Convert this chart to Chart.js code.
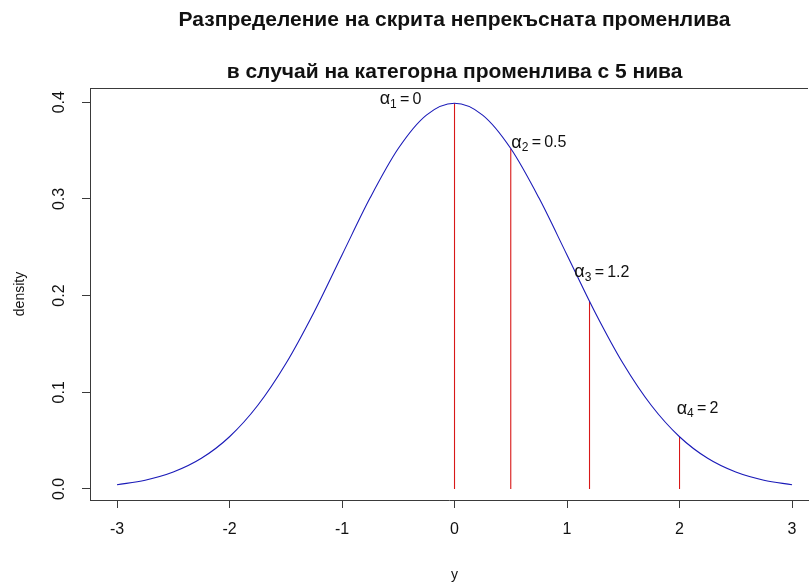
<!DOCTYPE html>
<html>
<head>
<meta charset="utf-8">
<script src="https://cdn.jsdelivr.net/npm/chart.js@4.4.1/dist/chart.umd.min.js"></script>
<style>
html, body { margin: 0; padding: 0; background: #fff; overflow: hidden; }
</style>
</head>
<body>
<canvas id="densityChart" width="809" height="584"></canvas>
<script>
// values
const titleLines = ["Разпределение на скрита непрекъсната променлива", "в случай на категорна променлива с 5 нива"];
const xLabel = "y";
const yLabel = "density";
const xTicks = [-3, -2, -1, 0, 1, 2, 3];
const yTicks = [0, 0.1, 0.2, 0.3, 0.4];

const curveX = [-3, -2.75, -2.5, -2.25, -2, -1.75, -1.5, -1.25, -1, -0.75, -0.5, -0.25, 0,
                0.25, 0.5, 0.75, 1, 1.25, 1.5, 1.75, 2, 2.25, 2.5, 2.75, 3];
const curveY = [0.0044, 0.0091, 0.0175, 0.0317, 0.054, 0.0863, 0.1295, 0.1826, 0.242, 0.3011, 0.3521, 0.3867, 0.3989,
                0.3867, 0.3521, 0.3011, 0.242, 0.1826, 0.1295, 0.0863, 0.054, 0.0317, 0.0175, 0.0091, 0.0044];

// thresholds (alpha_k) and the density where each red line stops
const cutX = [0, 0.5, 1.2, 2];
const cutY = [0.399, 0.352, 0.194, 0.054];
const cutIndex = ["1", "2", "3", "4"];
const cutText = ["0", "0.5", "1.2", "2"];
// where the alpha labels sit (centre, data units)
const labelX = [-0.48, 0.75, 1.31, 2.16];
const labelY = [0.403, 0.358, 0.224, 0.083];

const FONT = "'Liberation Sans', Arial, sans-serif";
const AXIS = "#3a3a3a";

const datasets = [{
    data: curveX.map((x, i) => ({ x: x, y: curveY[i] })),
    borderColor: "#1a1ab8",
    borderWidth: 1.1,
    pointRadius: 0,
    cubicInterpolationMode: "monotone"
}];
cutX.forEach((x, i) => {
    datasets.push({
        data: [{ x: x, y: 0 }, { x: x, y: cutY[i] }],
        borderColor: "#d81818",
        borderWidth: 1.1,
        pointRadius: 0
    });
});

const textPlugin = {
    id: "rText",
    afterDraw(chart) {
        const ctx = chart.ctx;
        const area = chart.chartArea;
        const xs = chart.scales.x;
        const ys = chart.scales.y;
        const midX = xs.getPixelForValue(0);

        ctx.save();
        // top side of the box
        ctx.strokeStyle = AXIS;
        ctx.lineWidth = 1;
        ctx.beginPath();
        ctx.moveTo(area.left, area.top + 0.5);
        ctx.lineTo(area.right, area.top + 0.5);
        ctx.stroke();

        // title
        ctx.fillStyle = "#111";
        ctx.textAlign = "center";
        ctx.textBaseline = "middle";
        ctx.font = "bold 21px " + FONT;
        ctx.fillText(titleLines[0], midX, 20);
        ctx.fillText(titleLines[1], midX, 72);

        // axis titles
        ctx.font = "14px " + FONT;
        ctx.fillText(xLabel, midX, 575);
        ctx.save();
        ctx.translate(20, (area.top + area.bottom) / 2);
        ctx.rotate(-Math.PI / 2);
        ctx.fillText(yLabel, 0, 0);
        ctx.restore();

        // y tick labels, rotated like R's default las=0
        ctx.font = "16px " + FONT;
        yTicks.forEach(v => {
            ctx.save();
            ctx.translate(60, ys.getPixelForValue(v));
            ctx.rotate(-Math.PI / 2);
            ctx.fillText(v.toFixed(1), 0, 0);
            ctx.restore();
        });

        // alpha labels with subscripts
        ctx.textAlign = "left";
        cutIndex.forEach((k, i) => {
            const greek = "18px " + FONT, big = "16px " + FONT, small = "12px " + FONT;
            const rest = "\u2009=\u2009" + cutText[i];
            ctx.font = greek;
            const wA = ctx.measureText("α").width;
            ctx.font = big;
            const wR = ctx.measureText(rest).width;
            ctx.font = small;
            const wS = ctx.measureText(k).width;
            const total = wA + wS + wR;
            let px = xs.getPixelForValue(labelX[i]) - total / 2;
            const py = ys.getPixelForValue(labelY[i]);
            ctx.font = greek;
            ctx.fillText("α", px, py);
            px += wA;
            ctx.font = small;
            ctx.fillText(k, px, py + 5);
            px += wS;
            ctx.font = big;
            ctx.fillText(rest, px, py);
        });
        ctx.restore();
    }
};

new Chart(document.getElementById("densityChart"), {
    type: "line",
    data: { datasets: datasets },
    options: {
        responsive: false,
        animation: false,
        layout: { padding: { top: 88, right: 1, left: 0, bottom: 0 } },
        plugins: { legend: { display: false }, tooltip: { enabled: false }, title: { display: false } },
        scales: {
            x: {
                type: "linear",
                min: -3.24,
                max: 3.142,
                afterBuildTicks: s => { s.ticks = xTicks.map(v => ({ value: v })); },
                afterFit: s => { s.height = 84; },
                grid: { drawOnChartArea: false, tickLength: 8, color: AXIS },
                border: { color: AXIS, width: 1 },
                ticks: { color: "#111", padding: 12, maxRotation: 0, font: { family: FONT, size: 16 } }
            },
            y: {
                min: -0.0114,
                max: 0.4147,
                afterBuildTicks: s => { s.ticks = yTicks.map(v => ({ value: v })); },
                afterFit: s => { s.width = 90; },
                grid: { drawOnChartArea: false, tickLength: 8, color: AXIS },
                border: { color: AXIS, width: 1 },
                ticks: { display: false }
            }
        }
    },
    plugins: [textPlugin]
});
</script>
</body>
</html>
